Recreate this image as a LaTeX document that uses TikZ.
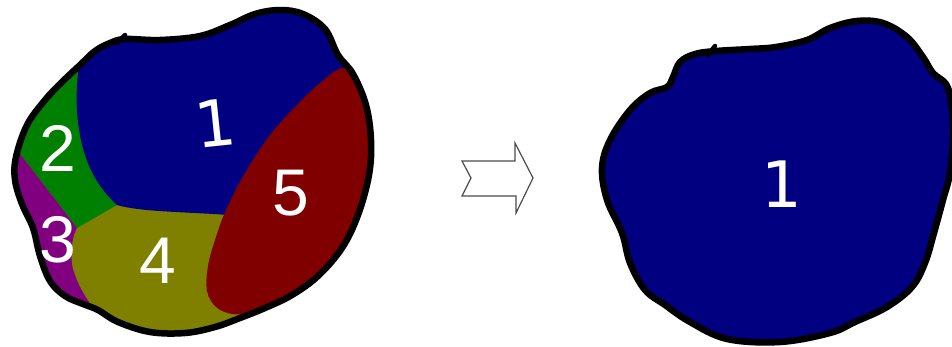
\documentclass[tikz,border=0pt]{standalone}
\usepackage{fontspec}
\setmainfont{Liberation Sans}
\newfontfamily\digitfont{DejaVu Sans}
\definecolor{rnavy}{RGB}{0,0,128}
\definecolor{rgreen}{RGB}{0,128,0}
\definecolor{rpurple}{RGB}{128,0,128}
\definecolor{rolive}{RGB}{128,128,0}
\definecolor{rmaroon}{RGB}{128,0,0}
\tikzset{
  outline/.style={draw=black, line width=6.5pt, line join=round, line cap=round},
  digit/.style={text=white, inner sep=0pt, font=\fontsize{66}{66}\selectfont},
  digitone/.style={text=white, inner sep=0pt, font=\digitfont\fontsize{64}{64}\selectfont},
  arrowshape/.style={draw=black!70, line width=1.2pt, fill=white, line join=miter}
}
\begin{document}
\begin{tikzpicture}[x=1pt,y=-1pt]
\useasboundingbox[fill=white] (0,0) rectangle (952,346);
% ---------- left blob ----------
\fill[rolive] plot[smooth cycle, tension=0.6] coordinates {
 (125,39) (160,40) (200,36) (230,25) (255,14) (280,10) (303,14) (325,29) (338,55)
 (353,74) (366,105) (371,140) (369,175) (358,215) (342,248) (318,276) (292,295)
 (265,308) (240,318) (215,327) (185,333) (150,332) (118,322) (98,310) (83,304)
 (65,296) (50,281) (40,256) (33,228) (22,204) (15,180) (16,157) (27,125) (45,100)
 (62,82) (80,65) (95,51) (110,43)};
\begin{scope}
\clip plot[smooth cycle, tension=0.6] coordinates {
 (125,39) (160,40) (200,36) (230,25) (255,14) (280,10) (303,14) (325,29) (338,55)
 (353,74) (366,105) (371,140) (369,175) (358,215) (342,248) (318,276) (292,295)
 (265,308) (240,318) (215,327) (185,333) (150,332) (118,322) (98,310) (83,304)
 (65,296) (50,281) (40,256) (33,228) (22,204) (15,180) (16,157) (27,125) (45,100)
 (62,82) (80,65) (95,51) (110,43)};
% green region 2
\fill[rgreen] (0,40) -- (120,40) -- (120,205) -- (117,205) -- (77,228) -- (20,154) -- (0,150) -- cycle;
% purple region 3
\fill[rpurple] (0,150) -- (20,154) -- (77,228)
  .. controls (70,240) and (70,265) .. (75,275)
  .. controls (80,290) and (88,300) .. (94,310) -- (94,346) -- (0,346) -- cycle;
% blue region 1
\fill[rnavy] (82,0) -- (82,50)
  .. controls (77,70) and (75,100) .. (78,122)
  .. controls (82,155) and (92,182) .. (117,205)
  .. controls (140,212) and (190,212) .. (228,215)
  -- (400,215) -- (400,0) -- cycle;
% red region 5
\fill[rmaroon] plot[smooth cycle, tension=0.6] coordinates {
 (344,68) (364,86) (377,130) (379,180) (370,225) (347,262) (313,288) (276,306)
 (250,313) (232,314) (216,307) (207,291) (208,266) (215,240) (226,210) (245,173)
 (270,135) (295,107) (320,83)};
\end{scope}
\draw[outline] plot[smooth cycle, tension=0.6] coordinates {
 (125,39) (160,40) (200,36) (230,25) (255,14) (280,10) (303,14) (325,29) (338,55)
 (353,74) (366,105) (371,140) (369,175) (358,215) (342,248) (318,276) (292,295)
 (265,308) (240,318) (215,327) (185,333) (150,332) (118,322) (98,310) (83,304)
 (65,296) (50,281) (40,256) (33,228) (22,204) (15,180) (16,157) (27,125) (45,100)
 (62,82) (80,65) (95,51) (110,43)};
\draw[line width=4.5pt, line cap=round] (117,43) -- (125,35);
\node[digitone, rotate=6] (l1) at (215,123) {1};
\node[digit] (l2) at (58,148) {2};
\node[digit] (l3) at (58,240) {3};
\node[digit] (l4) at (158,261) {4};
\node[digit] (l5) at (291,193) {5};
% ---------- arrow ----------
\draw[arrowshape] (462,161) -- (515,161) -- (515,143) -- (533,178) -- (516,213)
  -- (516,196) -- (462,196) -- (471,178) -- cycle;
% ---------- right blob ----------
\filldraw[outline, fill=rnavy] plot[smooth cycle, tension=0.6] coordinates {
 (716,51) (750,49) (776,47) (807,40) (830,28) (857,21) (883,23) (907,37) (923,57)
 (933,73) (946,84) (951,102) (953,135) (950,173) (943,200) (934,233) (925,263) (912,287)
 (887,307) (855,322) (830,333) (780,342) (727,339) (690,322) (665,305) (645,290)
 (630,263) (622,233) (607,200) (602,168) (610,140) (630,110) (650,93) (667,87)
 (673,77) (680,62) (695,54)};
\draw[line width=4.5pt, line cap=round] (708,55) -- (715,46);
\node[digitone] (r1) at (782,184) {1};
\end{tikzpicture}
\end{document}
